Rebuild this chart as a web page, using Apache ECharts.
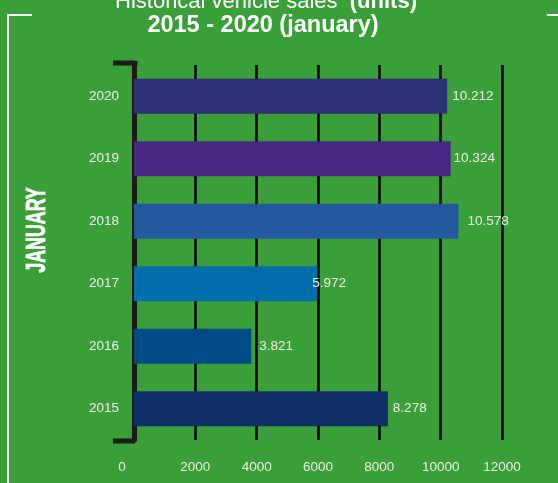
<!DOCTYPE html>
<html>
<head>
<meta charset="utf-8">
<script src="https://cdn.jsdelivr.net/npm/echarts@6/dist/echarts.min.js"></script>
<style>
  html, body { margin: 0; padding: 0; background: #3a9e39; }
  #main { width: 558px; height: 483px; }
</style>
</head>
<body>
<div id="main"></div>
<script>
// data
var years = ['2015', '2016', '2017', '2018', '2019', '2020'];
var units = [8278, 3821, 5972, 10578, 10324, 10212];
var barColors = ['#10306a', '#004a85', '#006eaa', '#2459a0', '#462783', '#2e2f78'];
var labelGap = [5, 8, -5, 9, 3, 5];   // label distance right of each bar

// 8278 -> 8.278
function fmt(v) {
  var k = Math.floor(v / 1000), r = String(v % 1000);
  while (r.length < 3) r = '0' + r;
  return k > 0 ? k + '.' + r : String(v);
}

var chart = echarts.init(document.getElementById('main'));
var lightTxt = '#eef2ea';

var option = {
  backgroundColor: '#3a9e39',
  animation: false,
  title: [{
    text: '{n|Historical vehicle sales  }{b|(units)}',
    left: 261,
    textAlign: 'center',
    top: -14,
    textStyle: {
      rich: {
        n: { fontFamily: 'Liberation Sans', fontSize: 22, fontWeight: 'normal', color: '#fff' },
        b: { fontFamily: 'Liberation Sans', fontSize: 22, fontWeight: 'bold', color: '#fff' }
      }
    }
  }, {
    text: '2015 - 2020 (january)',
    left: 258,
    textAlign: 'center',
    top: 9,
    textStyle: { fontFamily: 'Liberation Sans', fontSize: 23.5, fontWeight: 'bold', color: '#fff' }
  }],
  grid: { left: 134, right: 56, top: 65, bottom: 43 },
  xAxis: {
    type: 'value',
    min: 0, max: 12000, interval: 2000,
    axisLine: { show: false },
    axisTick: { show: false },
    axisLabel: {
      color: lightTxt, fontSize: 13.5, fontFamily: 'Liberation Sans', margin: 20,
      formatter: function (v) { return v === 0 ? '{z|0}' : String(v); },
      rich: { z: { color: lightTxt, fontSize: 13.5, fontFamily: 'Liberation Sans', padding: [0, 24, 0, 0] } }
    },
    splitLine: { lineStyle: { color: '#000', width: 2.5 } }
  },
  yAxis: {
    type: 'category',
    data: years,
    axisLine: { show: true, lineStyle: { color: '#1a1a16', width: 5 } },
    axisTick: { show: false },
    axisLabel: { color: lightTxt, fontSize: 13.5, fontFamily: 'Liberation Sans', margin: 15 }
  },
  series: [{
    type: 'bar',
    barWidth: 35,
    data: units.map(function (v, i) {
      return {
        value: v,
        itemStyle: { color: barColors[i] },
        label: { distance: labelGap[i] }
      };
    }),
    label: {
      show: true,
      position: 'right',
      color: lightTxt,
      fontSize: 13.5,
      fontFamily: 'Liberation Sans',
      formatter: function (p) { return fmt(p.value); }
    }
  }]
};
chart.setOption(option);

// axis bracket ends, frame lines and the rotated axis name
var x0 = chart.convertToPixel({ xAxisIndex: 0 }, 0);
var rect = chart.getModel().getComponent('grid').coordinateSystem.getRect();
var yTop = rect.y, yBot = rect.y + rect.height;
var frame = { stroke: '#fff', lineWidth: 2 };
chart.setOption({
  graphic: [
    { type: 'line', shape: { x1: x0 - 21, y1: yTop - 2, x2: x0 + 1, y2: yTop - 2 }, style: { stroke: '#1a1a16', lineWidth: 5 } },
    { type: 'line', shape: { x1: x0 + 1, y1: yTop - 4, x2: x0 + 1, y2: yTop }, style: { stroke: '#1a1a16', lineWidth: 5 } },
    { type: 'line', shape: { x1: x0 - 21, y1: yBot + 1, x2: x0 + 1, y2: yBot + 1 }, style: { stroke: '#1a1a16', lineWidth: 5 } },
    { type: 'line', shape: { x1: 8, y1: 15, x2: 8, y2: 483 }, style: frame },
    { type: 'line', shape: { x1: 7, y1: 15, x2: 32, y2: 15 }, style: frame },
    { type: 'line', shape: { x1: 547, y1: 15, x2: 558, y2: 15 }, style: frame },
    {
      type: 'text',
      x: 38, y: 230,
      rotation: Math.PI / 2,
      scaleX: 0.66,
      style: {
        text: 'JANUARY',
        fill: '#fff',
        stroke: '#fff',
        lineWidth: 0.8,
        font: 'bold 27px "Liberation Sans"',
        align: 'center',
        verticalAlign: 'middle'
      }
    }
  ]
});
</script>
</body>
</html>
